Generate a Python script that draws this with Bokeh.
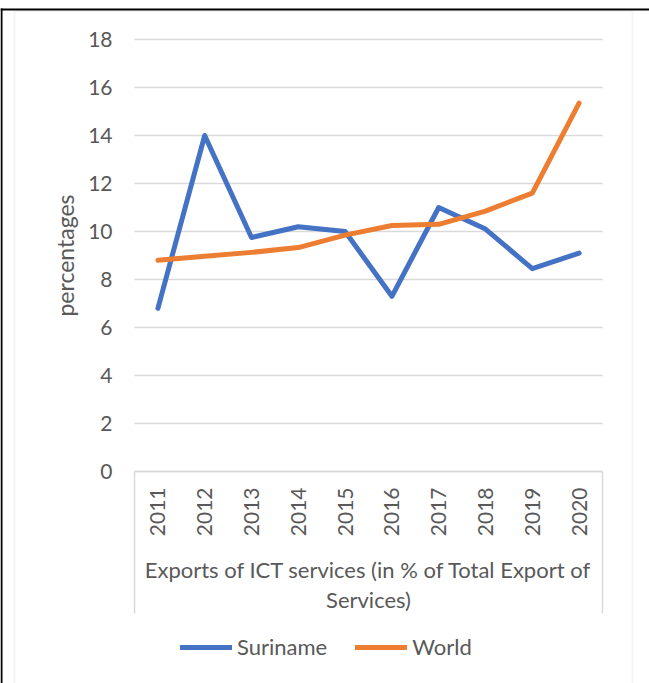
import math
from bokeh.plotting import figure
from bokeh.models import Range1d, FixedTicker, Legend, BoxAnnotation, Grid
from bokeh.embed import file_html
from bokeh.resources import INLINE

# ---- data ----
years = ["2011", "2012", "2013", "2014", "2015", "2016", "2017", "2018", "2019", "2020"]
suriname = [6.8, 14.0, 9.75, 10.2, 10.0, 7.3, 11.0, 10.1, 8.45, 9.1]
world = [8.8, 8.97, 9.13, 9.33, 9.85, 10.25, 10.3, 10.85, 11.6, 15.35]
y_ticks = [0, 2, 4, 6, 8, 10, 12, 14, 16, 18]
series_names = ["Suriname", "World"]
x_title = "Exports of ICT services (in % of Total Export of\nServices)"
y_title = "percentages"

BLUE = "#4472C4"
ORANGE = "#ED7D31"
GRID = "#d9d9d9"
TXT = "#595959"
FONT = "Lato"

# ---- layout (canvas pixels) ----
W, H = 649, 683
PLOT_L, PLOT_R = 134, 602      # plot area left / right
PLOT_T, PLOT_B = 39, 471       # plot area top / bottom
BOX_B = 613                    # bottom of category-axis box

n = len(years)
xs = [i + 0.5 for i in range(n)]
ymin, ymax = y_ticks[0], y_ticks[-1]
px_x = (PLOT_R - PLOT_L) / n
px_y = (PLOT_B - PLOT_T) / (ymax - ymin)
x_range = Range1d(-PLOT_L / px_x, (W - PLOT_L) / px_x)
y_range = Range1d(ymin - (H - PLOT_B) / px_y, ymin + PLOT_B / px_y)
box_bottom = ymin - (BOX_B - PLOT_B) / px_y

p = figure(width=W, height=H, x_range=x_range, y_range=y_range,
           output_backend="svg", toolbar_location=None,
           min_border_left=0, min_border_right=0,
           min_border_top=0, min_border_bottom=0)
p.outline_line_color = None
p.background_fill_color = "white"
p.border_fill_color = "white"

# y axis
ya = p.yaxis[0]
ya.fixed_location = 0
ya.bounds = (ymin, ymax)
ya.ticker = FixedTicker(ticks=y_ticks)
ya.axis_line_color = None
ya.major_tick_line_color = None
ya.minor_tick_line_color = None
ya.major_tick_out = 0
ya.major_tick_in = 0
ya.major_label_standoff = 22
ya.major_label_text_font = FONT
ya.major_label_text_font_size = "21px"
ya.major_label_text_color = TXT
ya.axis_label = y_title
ya.axis_label_text_font = FONT
ya.axis_label_text_font_size = "23px"
ya.axis_label_text_font_style = "normal"
ya.axis_label_text_color = TXT
ya.axis_label_standoff = 6

# x axis
xa = p.xaxis[0]
xa.fixed_location = ymin
xa.bounds = (0, n)
xa.ticker = FixedTicker(ticks=xs)
xa.major_label_overrides = {x: y for x, y in zip(xs, years)}
xa.major_label_orientation = math.pi / 2
xa.axis_line_color = GRID
xa.axis_line_width = 1.5
xa.major_tick_line_color = None
xa.minor_tick_line_color = None
xa.major_tick_out = 0
xa.major_tick_in = 0
xa.major_label_standoff = 16
xa.major_label_text_font = FONT
xa.major_label_text_font_size = "21px"
xa.major_label_text_color = TXT
xa.axis_label = x_title
xa.axis_label_text_font = FONT
xa.axis_label_text_font_size = "22px"
xa.axis_label_text_font_style = "normal"
xa.axis_label_text_color = TXT
xa.axis_label_text_line_height = 1.1
xa.axis_label_standoff = 17

p.xgrid.visible = False
p.ygrid.ticker = FixedTicker(ticks=y_ticks)
p.ygrid.grid_line_color = GRID
p.ygrid.grid_line_width = 1.5
if "cross_bounds" in Grid.properties():
    p.ygrid.cross_bounds = (0, n)
else:
    p.ygrid.visible = False
    p.segment(x0=[0] * len(y_ticks), x1=[n] * len(y_ticks), y0=y_ticks, y1=y_ticks,
              line_color=GRID, line_width=1.5)

# category-axis box sides
p.segment(x0=[0, n], x1=[0, n], y0=[ymin, ymin], y1=[box_bottom, box_bottom],
          line_color=GRID, line_width=1.5)

r1 = p.line(xs, suriname, line_color=BLUE, line_width=5, line_join="round", line_cap="round")
r2 = p.line(xs, world, line_color=ORANGE, line_width=5, line_join="round", line_cap="round")

legend = Legend(items=[(series_names[0], [r1]), (series_names[1], [r2])],
                orientation="horizontal", location=(180, H - 660),
                padding=0, margin=0, spacing=28,
                glyph_width=52, glyph_height=20, label_standoff=5,
                label_text_font=FONT, label_text_font_size="22px", label_text_color=TXT,
                border_line_color=None, background_fill_alpha=0)
p.add_layout(legend)

# chart frame and document border
cu = dict(left_units="canvas", right_units="canvas", top_units="canvas", bottom_units="canvas")
p.add_layout(BoxAnnotation(left=14, right=632, top=11, bottom=H + 20, fill_alpha=0,
                           line_color=GRID, line_width=2, **cu))
p.add_layout(BoxAnnotation(left=0, right=W, top=8, bottom=10, fill_color="black",
                           fill_alpha=1, line_alpha=0, **cu))
p.add_layout(BoxAnnotation(left=0, right=2, top=8, bottom=H + 20, fill_color="black",
                           fill_alpha=1, line_alpha=0, **cu))

open("out.html", "w").write(file_html(p, INLINE))
